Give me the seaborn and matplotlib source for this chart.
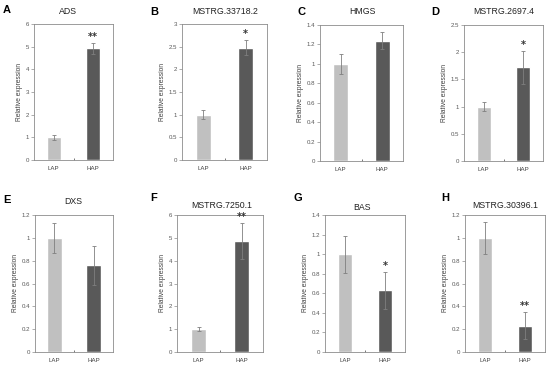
import matplotlib
matplotlib.use("Agg")
import matplotlib.pyplot as plt
import matplotlib.ticker as mticker
import seaborn as sns
import pandas as pd

sns.set_theme(style="white")
plt.rcParams['font.family'] = ['Liberation Sans', 'DejaVu Sans']

groups = ["LAP", "HAP"]
letters = ["A", "B", "C", "D", "E", "F", "G", "H"]
titles = ["ADS", "MSTRG.33718.2", "HMGS", "MSTRG.2697.4",
          "DXS", "MSTRG.7250.1", "BAS", "MSTRG.30396.1"]
means = [[1.0, 4.92], [1.0, 2.48], [1.0, 1.24], [1.0, 1.72],
         [1.0, 0.76], [1.0, 4.87], [1.0, 0.63], [1.0, 0.23]]
errs = [[0.12, 0.25], [0.10, 0.17], [0.10, 0.09], [0.09, 0.30],
        [0.13, 0.17], [0.10, 0.78], [0.19, 0.19], [0.14, 0.12]]
stars = [["", "**"], ["", "*"], ["", ""], ["", "*"],
         ["", ""], ["", "**"], ["", "*"], ["", "**"]]
ymax = [6, 3, 1.4, 2.5, 1.2, 6, 1.4, 1.2]
ystep = [1, 0.5, 0.2, 0.5, 0.2, 1, 0.2, 0.2]

W, H = 550, 365
fig = plt.figure(figsize=(5.5, 3.65), dpi=100)

# pixel boxes: left, right, top, bottom
boxes = [(34, 113, 24, 160), (182, 267, 24, 160), (320, 403, 25, 161), (464, 543, 25, 161),
         (35, 113, 215, 352), (177, 263, 215, 352), (325, 405, 215, 352), (465, 545, 215, 352)]
letter_pos = [(3, 10), (150, 12), (297, 12), (431, 12),
              (3, 200), (150, 198), (293, 198), (441, 198)]
title_pos = [(68, 12), (225, 12), (362, 12), (504, 12),
             (73, 202), (222, 205), (362, 207), (505, 205)]

light = "#c0c0c0"
dark = "#595959"
spine_c = "#8c8c8c"
text_c = "#595959"

for i in range(8):
    l, r, t, b = boxes[i]
    ax = fig.add_axes([l / W, 1 - b / H, (r - l) / W, (b - t) / H])
    df = pd.DataFrame({"group": groups, "value": means[i]})
    sns.barplot(data=df, x="group", y="value", hue="group", palette=[light, dark],
                width=0.36, dodge=False, ax=ax, legend=False, errorbar=None, saturation=1)
    ax.errorbar(x=[0, 1], y=means[i], yerr=errs[i], fmt="none", ecolor="#7f7f7f",
                elinewidth=0.6, capsize=1.5, capthick=0.6)
    ax.set_xlim(-0.5, 1.5)
    ax.set_ylim(0, ymax[i])
    ax.yaxis.set_major_locator(mticker.MultipleLocator(ystep[i]))
    ax.yaxis.set_major_formatter(mticker.FuncFormatter(lambda v, p: f"{v:g}"))
    ax.set_xlabel("")
    ax.set_ylabel("Relative expression", fontsize=4.8, color="#404040", labelpad=2)
    ax.tick_params(axis="y", direction="out", length=2, width=0.5, color=spine_c,
                   labelsize=4.4, labelcolor=text_c, pad=1.5, left=True)
    ax.tick_params(axis="x", length=0, labelsize=4.4, labelcolor="#404040", pad=4)
    ax.xaxis.set_minor_locator(mticker.FixedLocator([0.5]))
    ax.tick_params(axis="x", which="minor", direction="in", length=1.5, width=0.6,
                   color="#606060", bottom=True)
    for s in ax.spines.values():
        s.set_color(spine_c)
        s.set_linewidth(0.6)
    for j in range(2):
        if stars[i][j]:
            top = means[i][j] + errs[i][j]
            ax.text(j, top + ymax[i] * 0.005, stars[i][j], ha="center", va="bottom",
                    fontsize=7, fontweight="bold", color="#333333",
                    family="DejaVu Sans")
    fig.text(letter_pos[i][0] / W, 1 - letter_pos[i][1] / H, letters[i],
             fontsize=8, fontweight="bold", ha="left", va="center", color="black")
    fig.text(title_pos[i][0] / W, 1 - title_pos[i][1] / H, titles[i],
             fontsize=6.3, ha="center", va="center", color="#222222")

fig.savefig("out.png", dpi=100)
